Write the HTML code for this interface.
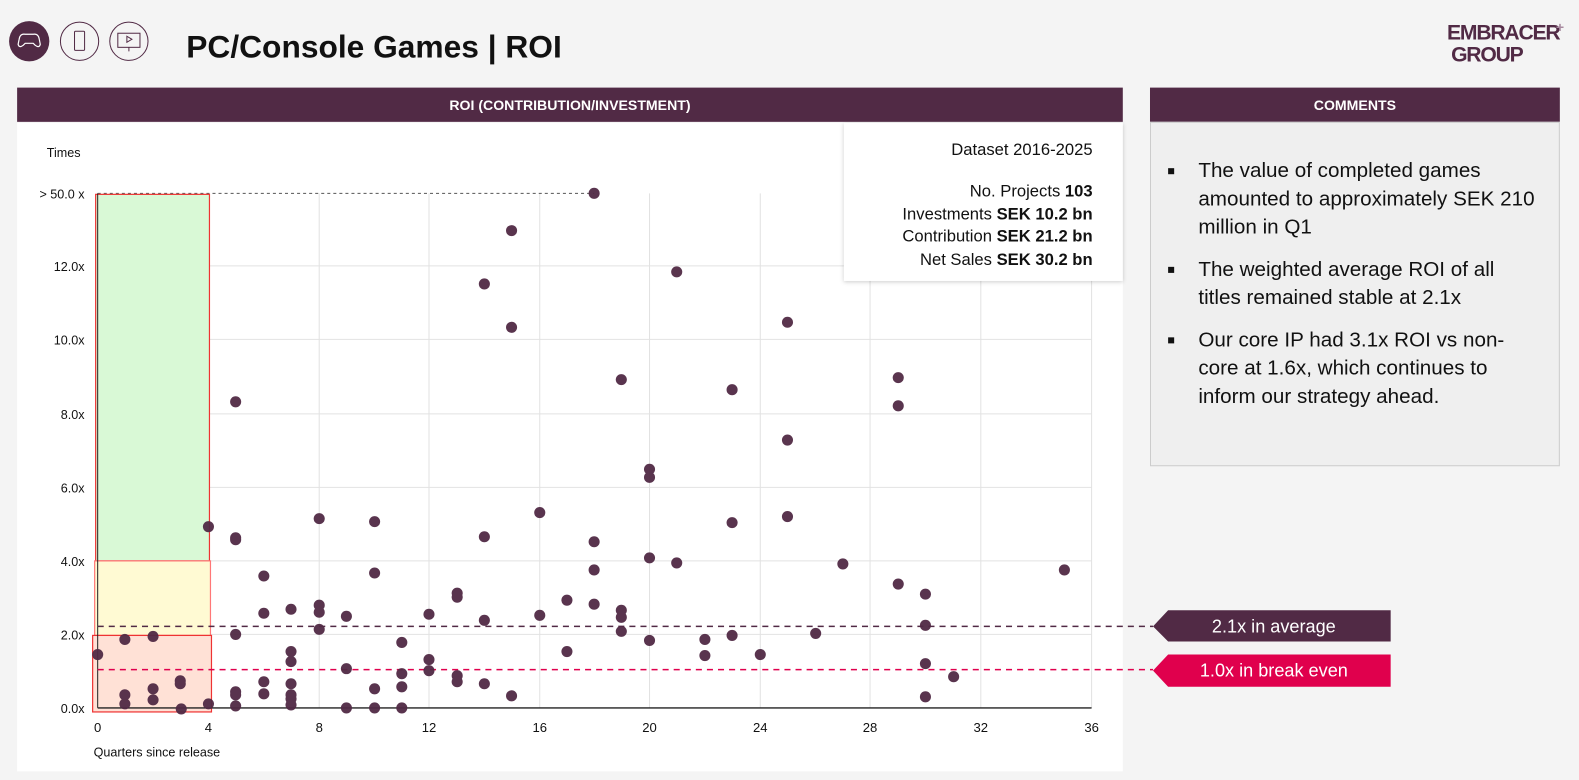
<!DOCTYPE html>
<html><head><meta charset="utf-8"><style>
body{margin:0;width:1579px;height:780px;background:#f4f4f4;font-family:"Liberation Sans",sans-serif;overflow:hidden;position:relative}
#w{position:absolute;left:0;top:0;width:1568px;height:775px;transform:scale(1.007);transform-origin:0 0}
.hdr{position:absolute;background:#512a45;color:#fff;font-weight:bold;font-size:14px;text-align:center;line-height:34px;height:34px;top:87px}
.cm{position:absolute;left:1142px;top:121px;width:407px;height:342px;background:#efefef;border:1px solid #ccc;box-sizing:border-box}
.cm ul{margin:0;padding:0;list-style:none}
.cm li{position:relative;padding-left:47px;font-size:20.5px;line-height:28px;color:#111;margin:0 0 14px 0;width:340px}
.cm li:before{content:"";position:absolute;left:17px;top:11px;width:6px;height:6px;background:#111}
</style></head><body><div id="w">
<svg width="1568" height="775" style="position:absolute;left:0;top:0">
<circle cx="29" cy="41" r="20" fill="#512a45"/>
<circle cx="79" cy="41" r="19" fill="none" stroke="#512a45" stroke-width="1"/>
<circle cx="128" cy="41" r="19" fill="none" stroke="#512a45" stroke-width="1"/>
<path d="M19 39 q1-6 6-5 h8 q5-1 6 5 l1 5 q-1 4-5 1 l-2-2 h-8 l-2 2 q-4 3-5-1z" fill="none" stroke="#fff" stroke-width="1.2"/>
<rect x="74" y="31" width="10" height="19" rx="1" fill="none" stroke="#512a45"/>
<rect x="117" y="33" width="22" height="14" fill="none" stroke="#512a45"/>
<path d="M126 36 l5 3 l-5 3z" fill="none" stroke="#512a45"/>
<line x1="128" y1="47" x2="128" y2="51" stroke="#512a45"/>
<text x="185" y="57" font-size="31.5" font-weight="bold" fill="#111">PC/Console Games | ROI</text>
<text x="1437" y="39" font-size="21" font-weight="bold" fill="#512a45" letter-spacing="-1.2">EMBRACER</text>
<text x="1545" y="32" font-size="14" font-weight="bold" fill="#a88aa0">+</text>
<text x="1441" y="61" font-size="21" font-weight="bold" fill="#512a45" letter-spacing="-1.2">GROUP</text>
<rect x="17" y="122" width="1098" height="644" fill="#fff"/>
<g stroke="#e2e2e2" stroke-width="1">
<line x1="97" y1="264" x2="1084" y2="264"/><line x1="97" y1="337" x2="1084" y2="337"/>
<line x1="97" y1="411" x2="1084" y2="411"/><line x1="97" y1="484" x2="1084" y2="484"/>
<line x1="97" y1="557" x2="1084" y2="557"/><line x1="97" y1="630" x2="1084" y2="630"/>
<line x1="317" y1="192" x2="317" y2="703"/><line x1="426" y1="192" x2="426" y2="703"/>
<line x1="536" y1="192" x2="536" y2="703"/><line x1="645" y1="192" x2="645" y2="703"/>
<line x1="755" y1="192" x2="755" y2="703"/><line x1="864" y1="192" x2="864" y2="703"/>
<line x1="974" y1="192" x2="974" y2="703"/><line x1="1084" y1="192" x2="1084" y2="703"/>
</g>
<line x1="97" y1="192" x2="590" y2="192" stroke="#555" stroke-dasharray="3,3"/>
<rect x="95" y="193" width="113" height="364" fill="#d9f9d6" stroke="#e33" stroke-width="1.2"/>
<rect x="94" y="557" width="115" height="74" fill="#fffad3" stroke="#f77" stroke-width="1.2"/>
<rect x="92" y="631" width="118" height="76" fill="#ffe1d6" stroke="#e33" stroke-width="1.2"/>
<line x1="97" y1="192" x2="97" y2="703" stroke="#222"/>
<line x1="97" y1="703" x2="1084" y2="703" stroke="#222" stroke-width="1.3"/>
<line x1="97" y1="622" x2="1145" y2="622" stroke="#512a45" stroke-width="1.5" stroke-dasharray="6,5"/>
<line x1="97" y1="665" x2="1145" y2="665" stroke="#e0004d" stroke-width="1.5" stroke-dasharray="6,5"/>
<g font-size="12.5" fill="#111" text-anchor="end">
<text x="80" y="156">Times</text>
<text x="84" y="197">&gt; 50.0 x</text><text x="84" y="269">12.0x</text><text x="84" y="342">10.0x</text>
<text x="84" y="416">8.0x</text><text x="84" y="489">6.0x</text><text x="84" y="562">4.0x</text>
<text x="84" y="635">2.0x</text><text x="84" y="708">0.0x</text>
</g>
<g font-size="13" fill="#111" text-anchor="middle">
<text x="97" y="727">0</text><text x="207" y="727">4</text><text x="317" y="727">8</text><text x="426" y="727">12</text>
<text x="536" y="727">16</text><text x="645" y="727">20</text><text x="755" y="727">24</text><text x="864" y="727">28</text>
<text x="974" y="727">32</text><text x="1084" y="727">36</text>
</g>
<text x="93" y="751" font-size="12.5" fill="#111">Quarters since release</text>
<g fill="#512a45" opacity="0.95">
<circle cx="97" cy="650" r="5.5"/><circle cx="124" cy="690" r="5.5"/><circle cx="124" cy="699" r="5.5"/><circle cx="124" cy="635" r="5.5"/>
<circle cx="152" cy="632" r="5.5"/><circle cx="152" cy="684" r="5.5"/><circle cx="152" cy="695" r="5.5"/><circle cx="179" cy="676" r="5.5"/>
<circle cx="179" cy="679" r="5.5"/><circle cx="180" cy="704" r="5.5"/><circle cx="207" cy="523" r="5.5"/><circle cx="207" cy="699" r="5.5"/>
<circle cx="234" cy="399" r="5.5"/><circle cx="234" cy="534" r="5.5"/><circle cx="234" cy="536" r="5.5"/><circle cx="234" cy="630" r="5.5"/>
<circle cx="234" cy="687" r="5.5"/><circle cx="234" cy="690" r="5.5"/><circle cx="234" cy="701" r="5.5"/>
<circle cx="262" cy="572" r="5.5"/><circle cx="262" cy="609" r="5.5"/><circle cx="262" cy="677" r="5.5"/><circle cx="262" cy="689" r="5.5"/>
<circle cx="289" cy="605" r="5.5"/><circle cx="289" cy="647" r="5.5"/><circle cx="289" cy="657" r="5.5"/><circle cx="289" cy="679" r="5.5"/>
<circle cx="289" cy="690" r="5.5"/><circle cx="289" cy="694" r="5.5"/><circle cx="289" cy="700" r="5.5"/>
<circle cx="317" cy="515" r="5.5"/><circle cx="317" cy="601" r="5.5"/><circle cx="317" cy="608" r="5.5"/><circle cx="317" cy="625" r="5.5"/>
<circle cx="344" cy="612" r="5.5"/><circle cx="344" cy="664" r="5.5"/><circle cx="344" cy="703" r="5.5"/>
<circle cx="372" cy="518" r="5.5"/><circle cx="372" cy="569" r="5.5"/><circle cx="372" cy="684" r="5.5"/><circle cx="372" cy="703" r="5.5"/>
<circle cx="399" cy="638" r="5.5"/><circle cx="399" cy="669" r="5.5"/><circle cx="399" cy="682" r="5.5"/><circle cx="399" cy="703" r="5.5"/>
<circle cx="426" cy="610" r="5.5"/><circle cx="426" cy="655" r="5.5"/><circle cx="426" cy="666" r="5.5"/>
<circle cx="454" cy="589" r="5.5"/><circle cx="454" cy="593" r="5.5"/><circle cx="454" cy="671" r="5.5"/><circle cx="454" cy="677" r="5.5"/>
<circle cx="481" cy="282" r="5.5"/><circle cx="481" cy="533" r="5.5"/><circle cx="481" cy="616" r="5.5"/><circle cx="481" cy="679" r="5.5"/>
<circle cx="508" cy="229" r="5.5"/><circle cx="508" cy="325" r="5.5"/><circle cx="508" cy="691" r="5.5"/>
<circle cx="536" cy="509" r="5.5"/><circle cx="536" cy="611" r="5.5"/><circle cx="563" cy="596" r="5.5"/><circle cx="563" cy="647" r="5.5"/>
<circle cx="590" cy="192" r="5.5"/><circle cx="590" cy="538" r="5.5"/><circle cx="590" cy="566" r="5.5"/><circle cx="590" cy="600" r="5.5"/>
<circle cx="617" cy="377" r="5.5"/><circle cx="617" cy="606" r="5.5"/><circle cx="617" cy="613" r="5.5"/><circle cx="617" cy="627" r="5.5"/>
<circle cx="645" cy="466" r="5.5"/><circle cx="645" cy="474" r="5.5"/><circle cx="645" cy="554" r="5.5"/><circle cx="645" cy="636" r="5.5"/>
<circle cx="672" cy="270" r="5.5"/><circle cx="672" cy="559" r="5.5"/><circle cx="700" cy="635" r="5.5"/><circle cx="700" cy="651" r="5.5"/>
<circle cx="727" cy="387" r="5.5"/><circle cx="727" cy="519" r="5.5"/><circle cx="727" cy="631" r="5.5"/><circle cx="755" cy="650" r="5.5"/>
<circle cx="782" cy="320" r="5.5"/><circle cx="782" cy="437" r="5.5"/><circle cx="782" cy="513" r="5.5"/><circle cx="810" cy="629" r="5.5"/>
<circle cx="837" cy="560" r="5.5"/><circle cx="892" cy="375" r="5.5"/><circle cx="892" cy="403" r="5.5"/><circle cx="892" cy="580" r="5.5"/>
<circle cx="919" cy="590" r="5.5"/><circle cx="919" cy="621" r="5.5"/><circle cx="919" cy="659" r="5.5"/><circle cx="919" cy="692" r="5.5"/>
<circle cx="947" cy="672" r="5.5"/><circle cx="1057" cy="566" r="5.5"/>
</g>
<rect x="838" y="122" width="277" height="157" fill="#fff" style="filter:drop-shadow(0 1px 2px rgba(0,0,0,.2))"/>
<g font-size="16.5" fill="#111" text-anchor="end">
<text x="1085" y="154">Dataset 2016-2025</text>
<text x="1085" y="195">No. Projects <tspan font-weight="bold">103</tspan></text>
<text x="1085" y="218">Investments <tspan font-weight="bold">SEK 10.2 bn</tspan></text>
<text x="1085" y="240">Contribution <tspan font-weight="bold">SEK 21.2 bn</tspan></text>
<text x="1085" y="263">Net Sales <tspan font-weight="bold">SEK 30.2 bn</tspan></text>
</g>
<path d="M1145 622 L1160 606 H1381 V637 H1160 Z" fill="#512a45"/>
<path d="M1145 666 L1160 650 H1381 V682 H1160 Z" fill="#e0004d"/>
<text x="1265" y="628" font-size="18" fill="#fff" text-anchor="middle">2.1x in average</text>
<text x="1265" y="672" font-size="18" fill="#fff" text-anchor="middle">1.0x in break even</text>
</svg>
<div class="hdr" style="left:17px;width:1098px">ROI (CONTRIBUTION/INVESTMENT)</div>
<div class="hdr" style="left:1142px;width:407px">COMMENTS</div>
<div class="cm"><ul style="margin-top:34px">
<li>The value of completed games amounted to approximately SEK 210 million in Q1</li>
<li>The weighted average ROI of all titles remained stable at 2.1x</li>
<li>Our core IP had 3.1x ROI vs non-core at 1.6x, which continues to inform our strategy ahead.</li>
</ul></div>
</div></body></html>
